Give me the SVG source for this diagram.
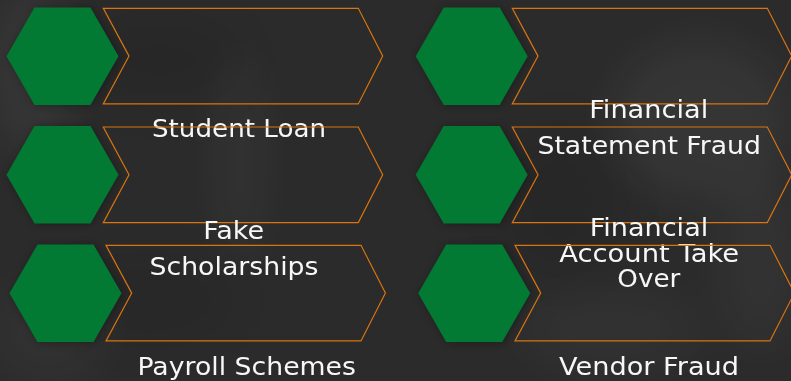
<svg xmlns="http://www.w3.org/2000/svg" width="791" height="381" viewBox="0 0 791 381">
  <defs>
    <style>
      .hex { fill: #037a33; }
      .chev { fill: none; stroke: #d9740f; stroke-width: 1.2; stroke-linejoin: miter; }
      .lbl { font-family: "DejaVu Sans", "Liberation Sans", sans-serif; font-size: 25.5px; fill: #f7f7f7; text-anchor: middle; }
    </style>
    <!-- regular hexagon, r = 56, centred on the origin -->
    <polygon id="hexShape" points="-56,0 -28,-48.7 28,-48.7 56,0 28,48.7 -28,48.7"/>
    <!-- chevron outline, origin at its top-left corner -->
    <polygon id="chevShape" points="0,0 255,0 279.4,47.8 255,95.6 0,95.6 25.7,47.8"/>
    <filter id="soft" x="-20%" y="-20%" width="140%" height="140%">
      <feGaussianBlur stdDeviation="4"/>
    </filter>
    <filter id="haze" x="-50%" y="-50%" width="200%" height="200%">
      <feGaussianBlur stdDeviation="22"/>
    </filter>
  </defs>

  <!-- crumpled dark paper backdrop -->
  <rect width="791" height="381" fill="#2b2b2b"/>
  <g filter="url(#haze)" fill="#ffffff">
    <ellipse cx="30" cy="70" rx="45" ry="90" opacity="0.05"/>
    <ellipse cx="240" cy="160" rx="18" ry="110" opacity="0.05"/>
    <ellipse cx="700" cy="120" rx="90" ry="80" opacity="0.05"/>
    <ellipse cx="760" cy="260" rx="40" ry="90" opacity="0.04"/>
    <ellipse cx="610" cy="330" rx="90" ry="40" opacity="0.035"/>
    <ellipse cx="50" cy="330" rx="60" ry="50" opacity="0.035"/>
  </g>
  <g filter="url(#haze)" fill="#000000">
    <ellipse cx="160" cy="60" rx="80" ry="40" opacity="0.08"/>
    <ellipse cx="560" cy="200" rx="60" ry="70" opacity="0.08"/>
    <ellipse cx="150" cy="300" rx="80" ry="40" opacity="0.07"/>
  </g>

  <!-- connectors: none in this figure -->
  <g id="connectors"/>

  <g id="node-student-loan">
    <use href="#hexShape" transform="translate(64,57)" fill="#000" opacity="0.3" filter="url(#soft)"/>
    <use href="#hexShape" class="hex" transform="translate(62.5,56.2)"/>
    <use href="#chevShape" class="chev" transform="translate(103.3,8.3)"/>
    <text class="lbl" x="239" y="136.5" textLength="174" lengthAdjust="spacingAndGlyphs">Student Loan</text>
  </g>

  <g id="node-fake-scholarships">
    <use href="#hexShape" transform="translate(64,175.5)" fill="#000" opacity="0.3" filter="url(#soft)"/>
    <use href="#hexShape" class="hex" transform="translate(62.5,174.7)"/>
    <use href="#chevShape" class="chev" transform="translate(103.3,127)"/>
    <text class="lbl" x="233.7" y="239" textLength="61" lengthAdjust="spacingAndGlyphs">Fake</text>
    <text class="lbl" x="234" y="275" textLength="169" lengthAdjust="spacingAndGlyphs">Scholarships</text>
  </g>

  <g id="node-payroll-schemes">
    <use href="#hexShape" transform="translate(67,294)" fill="#000" opacity="0.3" filter="url(#soft)"/>
    <use href="#hexShape" class="hex" transform="translate(65.5,293.2)"/>
    <use href="#chevShape" class="chev" transform="translate(106,245.3)"/>
    <text class="lbl" x="246.7" y="375" textLength="218.5" lengthAdjust="spacingAndGlyphs">Payroll Schemes</text>
  </g>

  <g id="node-financial-statement-fraud">
    <use href="#hexShape" transform="translate(473.2,57)" fill="#000" opacity="0.3" filter="url(#soft)"/>
    <use href="#hexShape" class="hex" transform="translate(471.7,56.2)"/>
    <use href="#chevShape" class="chev" transform="translate(512.3,8.3)"/>
    <text class="lbl" x="648.7" y="118" textLength="119" lengthAdjust="spacingAndGlyphs">Financial</text>
    <text class="lbl" x="649.2" y="154.3" textLength="223.5" lengthAdjust="spacingAndGlyphs">Statement Fraud</text>
  </g>

  <g id="node-financial-account-take-over">
    <use href="#hexShape" transform="translate(473.2,175.5)" fill="#000" opacity="0.3" filter="url(#soft)"/>
    <use href="#hexShape" class="hex" transform="translate(471.7,174.7)"/>
    <use href="#chevShape" class="chev" transform="translate(512.3,127)"/>
    <text class="lbl" x="649" y="235.7" textLength="118.5" lengthAdjust="spacingAndGlyphs">Financial</text>
    <text class="lbl" x="649.2" y="261.7" textLength="180" lengthAdjust="spacingAndGlyphs">Account Take</text>
    <text class="lbl" x="648.8" y="287.3" textLength="63" lengthAdjust="spacingAndGlyphs">Over</text>
  </g>

  <g id="node-vendor-fraud">
    <use href="#hexShape" transform="translate(475.7,294)" fill="#000" opacity="0.3" filter="url(#soft)"/>
    <use href="#hexShape" class="hex" transform="translate(474.2,293.2)"/>
    <use href="#chevShape" class="chev" transform="translate(515,245.3)"/>
    <text class="lbl" x="649" y="375" textLength="180" lengthAdjust="spacingAndGlyphs">Vendor Fraud</text>
  </g>
</svg>
